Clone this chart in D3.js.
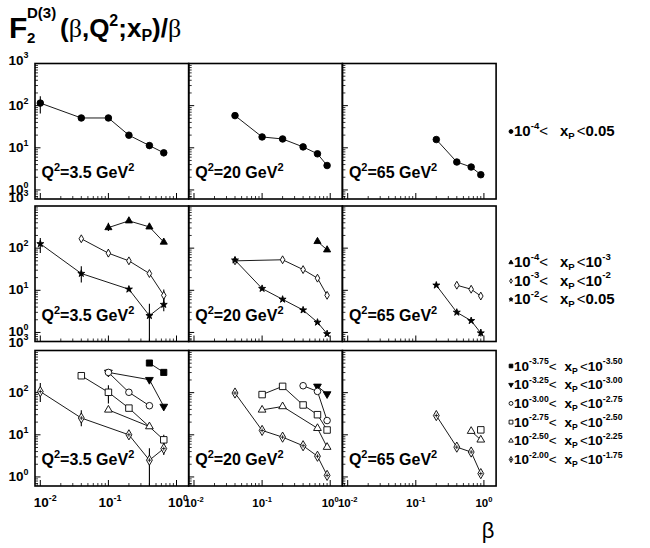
<!DOCTYPE html>
<html>
<head>
<meta charset="utf-8">
<script src="https://cdn.jsdelivr.net/npm/d3@7"></script>
<style>
body { margin: 0; background: #fff; }
svg text { font-family: "Liberation Sans", Arial, Helvetica, sans-serif; }
</style>
</head>
<body>
<script>
// ---- data: [beta, F2/beta] ----
var q2Labels = ["3.5", "20", "65"];
var betaTicks = [0.01, 0.1, 1];
var betaTickExp = ["-2", "-1", "0"];
var fTicks = [1, 10, 100, 1000];
var fTickExp = ["0", "1", "2", "3"];

// row 1 : 1e-4 < xP < 0.05
var allXp_q35 = [[0.01,115],[0.04,51],[0.1,51],[0.2,19.9],[0.4,11.3],[0.65,7.6]];
var allXp_q20 = [[0.04,58],[0.1,18.1],[0.2,16.2],[0.4,10.5],[0.65,7.2],[0.9,3.8]];
var allXp_q65 = [[0.2,15.7],[0.4,4.6],[0.65,3.5],[0.9,2.3]];
var allXpErr_q35 = [[0.01,65,166],[0.4,9.4,13.1],[0.65,6.3,8.9]];

// row 2 : three xP decades
var xpA_q35 = [[0.1,307],[0.2,444],[0.4,319],[0.65,139]];
var xpA_q20 = [[0.65,144],[0.9,91]];
var xpB_q35 = [[0.04,167],[0.1,76],[0.2,50],[0.4,25],[0.65,7.6]];
var xpB_q20 = [[0.04,50],[0.2,53],[0.4,31],[0.65,19.4],[0.9,7.6]];
var xpB_q65 = [[0.4,13.2],[0.65,10.6],[0.9,7.3]];
var xpC_q35 = [[0.01,127],[0.04,25],[0.2,10.6],[0.4,2.5],[0.65,4.6]];
var xpC_q20 = [[0.04,52],[0.1,11],[0.2,6.1],[0.4,3.4],[0.65,1.74],[0.9,0.93]];
var xpC_q65 = [[0.2,13.2],[0.4,3.0],[0.65,1.9],[0.9,0.97]];
var xpAErr_q35 = [[0.1,255,400]];
var xpBErr_q35 = [[0.1,62,95],[0.65,5.5,10.4]];
var xpCErr_q35 = [[0.01,77,174],[0.04,15.3,37],[0.4,0.1,4.8],[0.65,3.2,6.7]];
var xpCErr_q65 = [[0.9,0.8,1.2]];

// row 3 : quarter decades in xP
var bin1_q35 = [[0.4,504],[0.65,302]];
var bin2_q35 = [[0.1,302],[0.4,203],[0.65,47]];
var bin2_q20 = [[0.65,141],[0.9,93]];
var bin3_q35 = [[0.1,302],[0.2,102],[0.4,49]];
var bin3_q20 = [[0.4,146],[0.65,107],[0.9,21.8]];
var bin4_q35 = [[0.04,252],[0.1,102],[0.2,43],[0.65,7.6]];
var bin4_q20 = [[0.1,90],[0.2,141],[0.4,51],[0.65,30],[0.9,13]];
var bin4_q65 = [[0.9,13.1]];
var bin5_q35 = [[0.1,39],[0.4,15.7]];
var bin5_q20 = [[0.1,39],[0.2,47],[0.65,14.3],[0.9,5.1]];
var bin5_q65 = [[0.65,12.2],[0.9,7.6]];
var bin6_q35 = [[0.01,106],[0.04,25],[0.2,10],[0.4,2.5],[0.65,4.7]];
var bin6_q20 = [[0.04,98],[0.1,12.7],[0.2,8.8],[0.4,5.5],[0.65,3.1],[0.9,1.09]];
var bin6_q65 = [[0.2,28.6],[0.4,5.1],[0.65,3.9],[0.9,1.2]];
var bin4Err_q35 = [[0.1,55,150],[0.65,6,10]];
var bin6Err_q35 = [[0.01,60,170],[0.04,16,38],[0.4,0.1,4.8],[0.65,3.3,6.8]];

// legend labels: [marker, lower exponent, upper exponent (^..) or plain value]
var legendRow1 = [["dot","-4","0.05"]];
var legendRow2 = [["triUp","-4","^-3"],["oDiamond","-3","^-2"],["star","-2","0.05"]];
var legendRow3 = [["square","-3.75","^-3.50"],["triDown","-3.25","^-3.00"],["oCircle","-3.00","^-2.75"],
                  ["oSquare","-2.75","^-2.50"],["oTri","-2.50","^-2.25"],["cross","-2.00","^-1.75"]];

// table of what goes in each panel, built from the arrays above
var rows = [
  [ [{pts:allXp_q35, err:allXpErr_q35, mk:"dot"}],
    [{pts:allXp_q20, mk:"dot"}],
    [{pts:allXp_q65, mk:"dot"}] ],
  [ [{pts:xpA_q35, err:xpAErr_q35, mk:"triUp"},{pts:xpB_q35, err:xpBErr_q35, mk:"oDiamond"},{pts:xpC_q35, err:xpCErr_q35, mk:"star"}],
    [{pts:xpA_q20, mk:"triUp"},{pts:xpB_q20, mk:"oDiamond"},{pts:xpC_q20, mk:"star"}],
    [{pts:xpB_q65, mk:"oDiamond"},{pts:xpC_q65, err:xpCErr_q65, mk:"star"}] ],
  [ [{pts:bin1_q35, mk:"square"},{pts:bin2_q35, mk:"triDown"},{pts:bin3_q35, mk:"oCircle"},
     {pts:bin4_q35, err:bin4Err_q35, mk:"oSquare"},{pts:bin5_q35, mk:"oTri"},{pts:bin6_q35, err:bin6Err_q35, mk:"cross"}],
    [{pts:bin2_q20, mk:"triDown"},{pts:bin3_q20, mk:"oCircle"},{pts:bin4_q20, mk:"oSquare"},
     {pts:bin5_q20, mk:"oTri"},{pts:bin6_q20, mk:"cross"}],
    [{pts:bin4_q65, mk:"oSquare"},{pts:bin5_q65, mk:"oTri"},{pts:bin6_q65, mk:"cross"}] ]
];
var legends = [legendRow1, legendRow2, legendRow3];

// ---- layout ----
var colX = [35, 188.7, 342.4], panelW = 153.7;
var rowY = [63.5, 206, 350.5], panelH = 135.5;
var legendY0 = [136, 267, 370.5], legendStep = [0, 18.5, 18.7];
var legendFont = [15, 15, 13.5], legendGap = [12, 12, 8];

var x = d3.scaleLog().domain([0.00836, 1.51]).range([0, panelW]);
var y = d3.scaleLog().domain([0.61, 1000]).range([panelH, 0]);

var markers = {
  dot:      {type: d3.symbolCircle,   size: 34, fill: "#000", rot: 0},
  triUp:    {type: d3.symbolTriangle, size: 22, fill: "#000", rot: 0},
  oDiamond: {type: d3.symbolDiamond,  size: 18, fill: "#fff", rot: 0},
  star:     {type: d3.symbolStar,     size: 15, fill: "#000", rot: 0},
  square:   {type: d3.symbolSquare,   size: 38, fill: "#000", rot: 0},
  triDown:  {type: d3.symbolTriangle, size: 26, fill: "#000", rot: 180},
  oCircle:  {type: d3.symbolCircle,   size: 34, fill: "#fff", rot: 0},
  oSquare:  {type: d3.symbolSquare,   size: 42, fill: "#fff", rot: 0},
  oTri:     {type: d3.symbolTriangle, size: 26, fill: "#fff", rot: 0},
  cross:    {type: d3.symbolDiamond,  size: 30, fill: "#fff", rot: 0}
};

var svg = d3.select("body").append("svg").attr("width", 650).attr("height", 548);

function drawMarker(g, key, cx, cy, scale) {
  var m = markers[key];
  g.append("path")
    .attr("d", d3.symbol().type(m.type).size(m.size * scale)())
    .attr("transform", "translate(" + cx + "," + cy + ")" + (m.rot ? " rotate(" + m.rot + ")" : ""))
    .attr("fill", m.fill).attr("stroke", "#000").attr("stroke-width", 0.9);
  if (key == "cross") {
    var r = Math.sqrt(m.size * scale) * 0.35;
    g.append("path").attr("d", "M" + (cx - r) + "," + cy + "H" + (cx + r) + "M" + cx + "," + (cy - r) + "V" + (cy + r))
      .attr("stroke", "#000").attr("stroke-width", 0.8);
  }
}

// power of ten label: "10" + superscript
function powLabel(t, exp, fs) {
  t.append("tspan").text("10");
  t.append("tspan").attr("dy", -fs * 0.45).attr("font-size", fs * 0.66).text(exp);
}

var minorX = [], minorY = [];
[-3, -2, -1, 0].forEach(function(k) {
  for (var m = 2; m <= 9; m++) {
    var v = m * Math.pow(10, k);
    if (v > x.domain()[0] && v < x.domain()[1]) minorX.push(v);
  }
});
[-1, 0, 1, 2].forEach(function(k) {
  for (var m = 2; m <= 9; m++) {
    var v = m * Math.pow(10, k);
    if (v > y.domain()[0] && v < y.domain()[1]) minorY.push(v);
  }
});

rows.forEach(function(row, ri) {
  row.forEach(function(panel, ci) {
    var g = svg.append("g").attr("transform", "translate(" + colX[ci] + "," + rowY[ri] + ")");
    var cid = "clip" + ri + ci;
    g.append("clipPath").attr("id", cid).append("rect").attr("width", panelW).attr("height", panelH);

    // ticks, inside the frame on left and bottom
    g.selectAll(".ymin").data(minorY).enter().append("line")
      .attr("x1", 0).attr("x2", 3).attr("y1", function(d) { return y(d); }).attr("y2", function(d) { return y(d); })
      .attr("stroke", "#000").attr("stroke-width", 0.8);
    g.selectAll(".ymaj").data(fTicks.filter(function(d) { return d < 1000; })).enter().append("line")
      .attr("x1", 0).attr("x2", 5.5).attr("y1", function(d) { return y(d); }).attr("y2", function(d) { return y(d); })
      .attr("stroke", "#000").attr("stroke-width", 1);
    g.selectAll(".xmin").data(minorX).enter().append("line")
      .attr("y1", panelH).attr("y2", panelH - 3).attr("x1", function(d) { return x(d); }).attr("x2", function(d) { return x(d); })
      .attr("stroke", "#000").attr("stroke-width", 0.8);
    g.selectAll(".xmaj").data(betaTicks).enter().append("line")
      .attr("y1", panelH).attr("y2", panelH - 6).attr("x1", function(d) { return x(d); }).attr("x2", function(d) { return x(d); })
      .attr("stroke", "#000").attr("stroke-width", 1);

    var plot = g.append("g").attr("clip-path", "url(#" + cid + ")");
    var line = d3.line().x(function(d) { return x(d[0]); }).y(function(d) { return y(d[1]); });

    panel.forEach(function(s) {
      plot.append("path").attr("d", line(s.pts)).attr("fill", "none")
        .attr("stroke", "#000").attr("stroke-width", 0.9);
      (s.err || []).forEach(function(e) {
        plot.append("line").attr("x1", x(e[0])).attr("x2", x(e[0]))
          .attr("y1", y(e[1])).attr("y2", y(e[2]))
          .attr("stroke", "#000").attr("stroke-width", 1.1);
      });
    });
    panel.forEach(function(s) {
      s.pts.forEach(function(d) { drawMarker(plot, s.mk, x(d[0]), y(d[1]), 1); });
    });

    g.append("rect").attr("width", panelW).attr("height", panelH)
      .attr("fill", "none").attr("stroke", "#000").attr("stroke-width", 1.6);

    // Q2 label
    var q = g.append("text").attr("x", 6.5).attr("y", panelH - 21)
      .attr("font-size", 16).attr("font-weight", "bold");
    q.append("tspan").text("Q");
    q.append("tspan").attr("dy", -7).attr("font-size", 11).text("2");
    q.append("tspan").attr("dy", 7).text("=" + q2Labels[ci] + " GeV");
    q.append("tspan").attr("dy", -7).attr("font-size", 11).text("2");

    // y labels on the first column
    if (ci == 0) {
      fTicks.forEach(function(v, i) {
        var yy = v == 1000 ? rowY[ri] + (ri == 0 ? 1 : -4) : rowY[ri] + y(v) + 4;
        var t = svg.append("text").attr("x", 28.5).attr("y", yy)
          .attr("text-anchor", "end").attr("font-size", 13.5).attr("font-weight", "bold");
        powLabel(t, fTickExp[i], 13.5);
      });
    }
    // x labels under the last row
    if (ri == 2) {
      var fs = ci == 0 ? 13.5 : 11.5;
      betaTicks.forEach(function(v, i) {
        var dx = (ci == 0 && i == 0) ? 5 : (ci == 0 ? 1.5 : 0);
        var t = svg.append("text").attr("x", colX[ci] + x(v) + dx).attr("y", rowY[2] + panelH + 21)
          .attr("text-anchor", "middle").attr("font-size", fs).attr("font-weight", "bold");
        powLabel(t, betaTickExp[i], fs);
      });
    }
  });
});

// legends
legends.forEach(function(lg, ri) {
  var fs = legendFont[ri], sfs = fs * 0.64;
  lg.forEach(function(e, i) {
    var by = legendY0[ri] + i * legendStep[ri];
    drawMarker(svg, e[0], 511, by - 4.5, 0.35);
    var t = svg.append("text").attr("x", 514).attr("y", by).attr("font-size", fs).attr("font-weight", "bold");
    t.append("tspan").text("10");
    t.append("tspan").attr("dy", -fs * 0.47).attr("font-size", sfs).text(e[1]);
    t.append("tspan").attr("dy", fs * 0.47).attr("font-weight", "normal").text("<");
    t.append("tspan").attr("dx", legendGap[ri]).text("x");
    t.append("tspan").attr("dy", 3).attr("font-size", sfs).text("P");
    t.append("tspan").attr("dy", -3).attr("dx", 2).attr("font-weight", "normal").text("<");
    if (e[2].charAt(0) == "^") {
      t.append("tspan").text("10");
      t.append("tspan").attr("dy", -fs * 0.47).attr("font-size", sfs).text(e[2].slice(1));
    } else {
      t.append("tspan").text(e[2]);
    }
  });
});

// title
svg.append("text").attr("x", 9).attr("y", 38).attr("font-size", 30).attr("font-weight", "bold").text("F");
svg.append("text").attr("x", 27).attr("y", 18).attr("font-size", 15).attr("font-weight", "bold").text("D(3)");
svg.append("text").attr("x", 27).attr("y", 43).attr("font-size", 15).attr("font-weight", "bold").text("2");
var tt = svg.append("text").attr("x", 60).attr("y", 37).attr("font-size", 26).attr("font-weight", "bold");
tt.append("tspan").text("(");
tt.append("tspan").attr("font-family", "Liberation Serif").attr("font-weight", "normal").text("β");
tt.append("tspan").text(",Q");
tt.append("tspan").attr("dy", -11).attr("font-size", 16).text("2");
tt.append("tspan").attr("dy", 11).text(";x");
tt.append("tspan").attr("dy", 4).attr("font-size", 16).text("P");
tt.append("tspan").attr("dy", -4).text(")/");
tt.append("tspan").attr("font-family", "Liberation Serif").attr("font-weight", "normal").text("β");

// x axis title
svg.append("text").attr("x", 488).attr("y", 538).attr("text-anchor", "middle")
  .attr("font-family", "Liberation Serif").attr("font-size", 22).text("β");
</script>
</body>
</html>
